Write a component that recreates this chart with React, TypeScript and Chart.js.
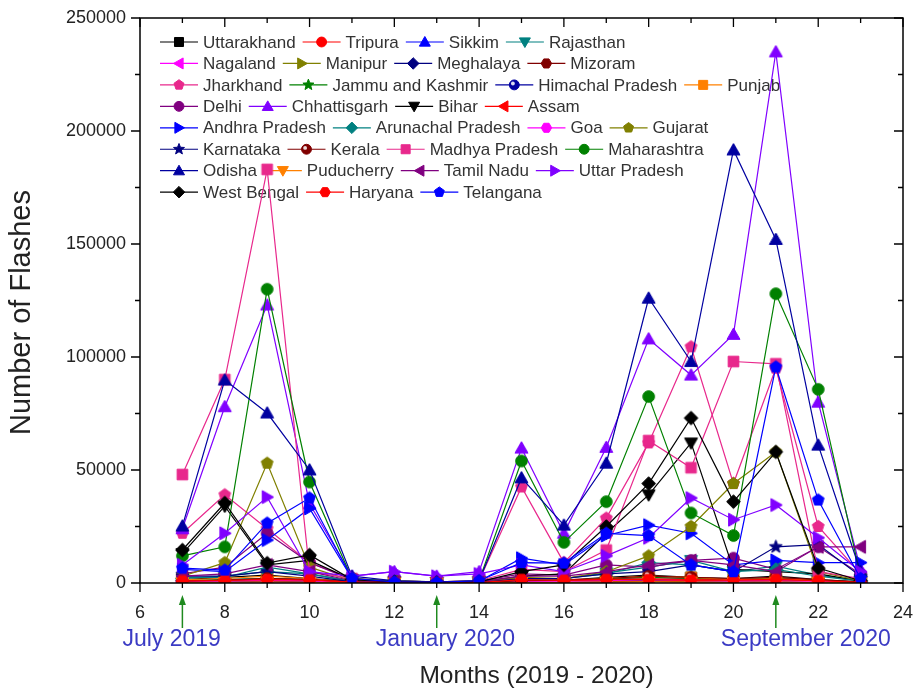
import React, { useEffect, useRef } from 'react';
import { Chart, registerables } from 'chart.js';

Chart.register(...registerables);

// ---------------- DATA ----------------
const months = [7, 8, 9, 10, 11, 12, 13, 14, 15, 16, 17, 18, 19, 20, 21, 22, 23];
const xTickValues = [6, 8, 10, 12, 14, 16, 18, 20, 22, 24];
const yTickValues = [0, 50000, 100000, 150000, 200000, 250000];
const markedMonths = [7, 13, 21];
const markedLabels = ['July 2019', 'January 2020', 'September 2020'];
const xTitle = 'Months (2019 - 2020)';
const yTitle = 'Number of Flashes';

const stateNames = [
  'Uttarakhand', 'Tripura', 'Sikkim', 'Rajasthan',
  'Nagaland', 'Manipur', 'Meghalaya', 'Mizoram',
  'Jharkhand', 'Jammu and Kashmir', 'Himachal Pradesh', 'Punjab',
  'Delhi', 'Chhattisgarh', 'Bihar', 'Assam',
  'Andhra Pradesh', 'Arunachal Pradesh', 'Goa', 'Gujarat',
  'Karnataka', 'Kerala', 'Madhya Pradesh', 'Maharashtra',
  'Odisha', 'Puducherry', 'Tamil Nadu', 'Uttar Pradesh',
  'West Bengal', 'Haryana', 'Telangana',
];

const uttarakhand = [1500, 2500, 3500, 2000, 600, 300, 200, 300, 1500, 1200, 2500, 3500, 2500, 2000, 3000, 1500, 400];
const tripura = [800, 1000, 1500, 1200, 500, 200, 150, 300, 2000, 1500, 1800, 1500, 1200, 1500, 1800, 1200, 400];
const sikkim = [400, 600, 900, 700, 300, 100, 80, 100, 500, 700, 900, 1200, 900, 700, 800, 500, 200];
const rajasthan = [2500, 2500, 7000, 4000, 800, 300, 200, 400, 1500, 2000, 4500, 7000, 10000, 5000, 7500, 3500, 900];
const nagaland = [300, 500, 700, 500, 200, 100, 80, 100, 300, 400, 600, 800, 600, 500, 600, 400, 150];
const manipur = [400, 600, 800, 600, 200, 100, 80, 100, 400, 500, 700, 900, 800, 600, 700, 500, 200];
const meghalaya = [1000, 1500, 2000, 1500, 400, 200, 100, 200, 1000, 1200, 1800, 2500, 2000, 1500, 2000, 1200, 400];
const mizoram = [300, 500, 700, 500, 150, 80, 50, 80, 300, 400, 600, 700, 500, 500, 600, 400, 150];
const jharkhand = [22000, 39000, 24000, 9000, 2000, 800, 500, 1000, 42500, 9000, 28700, 62000, 104500, 44000, 95000, 25000, 4000];
const jammuKashmir = [1000, 1500, 2000, 1500, 300, 150, 100, 150, 1000, 1200, 2000, 2500, 2000, 1500, 2000, 1200, 400];
const himachal = [500, 800, 1200, 900, 300, 200, 150, 200, 600, 800, 1200, 1500, 1200, 900, 1000, 700, 200];
const punjab = [1500, 2000, 3000, 2000, 300, 100, 80, 100, 800, 1000, 2000, 3000, 2500, 1500, 2000, 1200, 300];
const delhi = [4000, 7000, 22000, 9000, 1500, 800, 500, 800, 4000, 3500, 8000, 7000, 10000, 11000, 6000, 16000, 4000];
const chhattisgarh = [24000, 78000, 123000, 35000, 3000, 5000, 3000, 5000, 59700, 22000, 60000, 108000, 92000, 110000, 235000, 80000, 6000];
const bihar = [13000, 34000, 8000, 10000, 1500, 500, 300, 500, 3000, 4000, 22000, 39000, 62000, 6000, 5000, 4000, 800];
const assam = [1000, 1200, 1800, 1500, 500, 200, 100, 200, 1200, 1000, 1500, 1800, 1500, 1200, 1500, 1000, 300];
const andhra = [6000, 5000, 19000, 33000, 2000, 500, 300, 800, 11000, 8000, 21000, 25600, 22000, 8000, 10000, 9000, 9000];
const arunachal = [2000, 3000, 5000, 4000, 600, 200, 100, 200, 1500, 2000, 4000, 9000, 8000, 5000, 6000, 3000, 800];
const goa = [600, 800, 1200, 900, 200, 100, 80, 100, 500, 700, 1000, 1500, 1000, 800, 1000, 600, 200];
const gujarat = [3000, 9000, 53000, 7000, 1000, 400, 300, 500, 2500, 2000, 5000, 12000, 25000, 44000, 58000, 5000, 1000];
const karnataka = [3000, 3000, 5000, 3000, 500, 200, 100, 200, 2000, 2000, 4000, 5000, 8000, 5000, 16000, 17000, 3000];
const kerala = [800, 1200, 2000, 1500, 400, 200, 100, 200, 1000, 1200, 2000, 3000, 2500, 2000, 2500, 1500, 500];
const madhyaPradesh = [48000, 90000, 183000, 5000, 2000, 800, 500, 1000, 6000, 5000, 14600, 63000, 51000, 98000, 97000, 5000, 2000];
const maharashtra = [12000, 16000, 130000, 44700, 2000, 1000, 500, 1000, 54000, 18000, 36000, 82500, 31000, 21000, 128000, 85700, 3000];
const odisha = [25200, 89800, 75200, 50000, 3000, 1000, 500, 1000, 46500, 25600, 53000, 126000, 98000, 191600, 152000, 61000, 5000];
const puducherry = [200, 300, 400, 300, 100, 50, 30, 50, 200, 300, 400, 500, 400, 300, 400, 300, 100];
const tamilNadu = [3000, 4000, 8000, 5000, 1000, 500, 300, 500, 3000, 3000, 5000, 8000, 10000, 8000, 5000, 16000, 16000];
const uttarPradesh = [8000, 22000, 38000, 5000, 3000, 5000, 3000, 4000, 8000, 5000, 12000, 20000, 37600, 28000, 34500, 20000, 5000];
const westBengal = [14600, 35400, 8800, 12400, 1500, 500, 300, 500, 5000, 8000, 25000, 44000, 73000, 36000, 58000, 6600, 1000];
const haryana = [900, 1100, 1500, 1300, 400, 200, 100, 200, 1500, 1200, 1500, 1500, 1200, 1300, 1500, 1000, 300];
const telangana = [6600, 5700, 26500, 37600, 2000, 500, 300, 1000, 9000, 8800, 22000, 21000, 8000, 5000, 95600, 36700, 2000];

const seriesValues = [
  uttarakhand, tripura, sikkim, rajasthan,
  nagaland, manipur, meghalaya, mizoram,
  jharkhand, jammuKashmir, himachal, punjab,
  delhi, chhattisgarh, bihar, assam,
  andhra, arunachal, goa, gujarat,
  karnataka, kerala, madhyaPradesh, maharashtra,
  odisha, puducherry, tamilNadu, uttarPradesh,
  westBengal, haryana, telangana,
];

// ---------------- STYLE ----------------
const colorCycle = ['#000000', '#ff0000', '#0000ff', '#008080', '#ff00ff', '#808000', '#000080',
  '#800000', '#e8288c', '#008000', '#0000a0', '#ff8000', '#800080', '#8000ff'];
const shapeCycle = ['square', 'circle', 'up', 'down', 'left', 'right', 'diamond', 'hexagon', 'pentagon', 'star', 'sphere'];
const markedLabelShift = [-60, -61, -55];

const FONT = "'Liberation Sans', Arial, Helvetica, sans-serif";

function drawMarker(ctx: CanvasRenderingContext2D, shape: string, x: number, y: number, r: number, color: string) {
  ctx.save();
  ctx.fillStyle = color;
  ctx.strokeStyle = color;
  ctx.lineWidth = 1;
  ctx.beginPath();
  const poly = (pts: number[][]) => {
    ctx.moveTo(x + pts[0][0], y + pts[0][1]);
    for (let i = 1; i < pts.length; i++) ctx.lineTo(x + pts[i][0], y + pts[i][1]);
    ctx.closePath();
  };
  const reg = (n: number, rr: number, rot: number) => {
    const pts: number[][] = [];
    for (let i = 0; i < n; i++) {
      const a = rot + (i * 2 * Math.PI) / n;
      pts.push([rr * Math.cos(a), rr * Math.sin(a)]);
    }
    poly(pts);
  };
  switch (shape) {
    case 'square': ctx.rect(x - r * 0.82, y - r * 0.82, r * 1.64, r * 1.64); break;
    case 'circle': ctx.arc(x, y, r * 0.9, 0, Math.PI * 2); break;
    case 'up': poly([[0, -r], [r, r * 0.75], [-r, r * 0.75]]); break;
    case 'down': poly([[0, r], [r, -r * 0.75], [-r, -r * 0.75]]); break;
    case 'left': poly([[-r, 0], [r * 0.75, -r], [r * 0.75, r]]); break;
    case 'right': poly([[r, 0], [-r * 0.75, -r], [-r * 0.75, r]]); break;
    case 'diamond': poly([[0, -r * 1.05], [r * 1.05, 0], [0, r * 1.05], [-r * 1.05, 0]]); break;
    case 'hexagon': reg(6, r * 0.95, 0); break;
    case 'pentagon': reg(5, r * 0.95, -Math.PI / 2); break;
    case 'star': {
      const pts: number[][] = [];
      for (let i = 0; i < 10; i++) {
        const a = -Math.PI / 2 + (i * Math.PI) / 5;
        const rr = i % 2 === 0 ? r * 1.05 : r * 0.45;
        pts.push([rr * Math.cos(a), rr * Math.sin(a)]);
      }
      poly(pts);
      break;
    }
    case 'sphere': ctx.arc(x, y, r * 0.9, 0, Math.PI * 2); break;
  }
  ctx.fill();
  ctx.stroke();
  if (shape === 'sphere') {
    ctx.beginPath();
    ctx.fillStyle = 'rgba(255,255,255,0.85)';
    ctx.arc(x - r * 0.25, y - r * 0.25, r * 0.35, 0, Math.PI * 2);
    ctx.fill();
  }
  ctx.restore();
}

function markerCanvas(shape: string, color: string, r: number) {
  const size = Math.ceil(r * 2 + 4);
  const c = document.createElement('canvas');
  c.width = size;
  c.height = size;
  const ctx = c.getContext('2d')!;
  drawMarker(ctx, shape, size / 2, size / 2, r, color);
  return c;
}

const legendPlugin = {
  id: 'customLegend',
  beforeDatasetsDraw(chart: any) {
    const ctx = chart.ctx as CanvasRenderingContext2D;
    const area = chart.chartArea;
    const x0 = area.left + 20;
    const y0 = area.top + 24;
    const rowH = 21.45;
    ctx.save();
    ctx.font = `17px ${FONT}`;
    ctx.textBaseline = 'middle';
    ctx.textAlign = 'left';
    let x = x0;
    chart.data.datasets.forEach((ds: any, i: number) => {
      const row = Math.floor(i / 4);
      if (i % 4 === 0) x = x0;
      const y = y0 + row * rowH;
      ctx.strokeStyle = ds.borderColor;
      ctx.lineWidth = 1.2;
      ctx.beginPath();
      ctx.moveTo(x, y);
      ctx.lineTo(x + 38, y);
      ctx.stroke();
      drawMarker(ctx, ds._shape, x + 19, y, 5.5, ds.borderColor);
      ctx.fillStyle = '#333';
      ctx.fillText(ds.label, x + 43, y + 1);
      x += 43 + ctx.measureText(ds.label).width + 7;
    });
    ctx.restore();
  },
};

const framePlugin = {
  id: 'frameTicks',
  afterDatasetsDraw(chart: any) {
    const ctx = chart.ctx as CanvasRenderingContext2D;
    const { left, right, top, bottom } = chart.chartArea;
    const xs = chart.scales.x;
    const ys = chart.scales.y;
    ctx.save();
    ctx.strokeStyle = '#000';
    ctx.lineWidth = 1.5;
    ctx.strokeRect(left, top, right - left, bottom - top);
    ctx.lineWidth = 1.3;
    ctx.beginPath();
    for (let v = 6; v <= 24; v += 1) {
      const px = xs.getPixelForValue(v);
      const major = v % 2 === 0;
      const len = major ? 9 : 5;
      ctx.moveTo(px, bottom);
      ctx.lineTo(px, bottom + len);
      ctx.moveTo(px, top);
      ctx.lineTo(px, top + len);
    }
    for (let v = 0; v <= 250000; v += 25000) {
      const py = ys.getPixelForValue(v);
      const major = v % 50000 === 0;
      const len = major ? 9 : 5;
      ctx.moveTo(left, py);
      ctx.lineTo(left - len, py);
      ctx.moveTo(right, py);
      ctx.lineTo(right - len, py);
    }
    ctx.stroke();
    ctx.restore();
  },
  afterDraw(chart: any) {
    const ctx = chart.ctx as CanvasRenderingContext2D;
    const { left, right, top, bottom } = chart.chartArea;
    const xs = chart.scales.x;
    ctx.save();
    markedMonths.forEach((m, i) => {
      const px = xs.getPixelForValue(m);
      ctx.strokeStyle = '#1f8a1f';
      ctx.fillStyle = '#1f8a1f';
      ctx.lineWidth = 1.5;
      ctx.beginPath();
      ctx.moveTo(px, bottom + 45);
      ctx.lineTo(px, bottom + 20);
      ctx.stroke();
      ctx.beginPath();
      ctx.moveTo(px, bottom + 12);
      ctx.lineTo(px + 3.5, bottom + 22);
      ctx.lineTo(px - 3.5, bottom + 22);
      ctx.closePath();
      ctx.fill();
      ctx.fillStyle = '#3b3bc4';
      ctx.font = `23px ${FONT}`;
      ctx.textAlign = 'left';
      ctx.textBaseline = 'middle';
      ctx.fillText(markedLabels[i], px + markedLabelShift[i], bottom + 57);
    });
    // axis titles
    ctx.fillStyle = '#222';
    ctx.textAlign = 'center';
    ctx.textBaseline = 'middle';
    ctx.font = `24.5px ${FONT}`;
    ctx.fillText(xTitle, (left + right) / 2 + 15, bottom + 93);
    ctx.translate(22, (top + bottom) / 2 + 12);
    ctx.rotate(-Math.PI / 2);
    ctx.font = `29px ${FONT}`;
    ctx.fillText(yTitle, 0, 0);
    ctx.restore();
  },
};

export default function App() {
  const ref = useRef<HTMLCanvasElement | null>(null);
  useEffect(() => {
    document.body.style.margin = '0';
    const canvas = ref.current!;
    const datasets = seriesValues.map((vals, i) => {
      const color = colorCycle[i % colorCycle.length];
      const shape = shapeCycle[i % shapeCycle.length];
      return {
        label: stateNames[i],
        data: months.map((m, j) => ({ x: m, y: vals[j] })),
        borderColor: color,
        backgroundColor: color,
        borderWidth: 1.2,
        pointStyle: markerCanvas(shape, color, 6.5),
        pointRadius: 6,
        tension: 0,
        order: seriesValues.length - i,
        _shape: shape,
      } as any;
    });
    const chart = new Chart(canvas, {
      type: 'line',
      data: { datasets },
      options: {
        animation: false,
        responsive: true,
        maintainAspectRatio: false,
        layout: { padding: { left: 0, right: 16, top: 18, bottom: 0 } },
        plugins: { legend: { display: false }, tooltip: { enabled: false } },
        scales: {
          x: {
            type: 'linear',
            min: 6,
            max: 24,
            afterBuildTicks: (s: any) => { s.ticks = xTickValues.map((v) => ({ value: v })); },
            afterFit: (s: any) => { s.height = 111; s.paddingLeft = 0; s.paddingRight = 0; },
            grid: { display: false },
            border: { display: false },
            ticks: { font: { family: FONT, size: 18 }, color: '#222', padding: 11, maxRotation: 0 },
          },
          y: {
            type: 'linear',
            min: 0,
            max: 250000,
            afterBuildTicks: (s: any) => { s.ticks = yTickValues.map((v) => ({ value: v })); },
            afterFit: (s: any) => { s.width = 140; s.paddingTop = 0; s.paddingBottom = 0; },
            grid: { display: false },
            border: { display: false },
            ticks: { font: { family: FONT, size: 18 }, color: '#222', padding: 6, callback: (v: any) => String(v) },
          },
        },
      },
      plugins: [legendPlugin, framePlugin],
    });
    return () => chart.destroy();
  }, []);
  return (
    <div style={{ position: 'fixed', left: 0, top: 0, width: 919, height: 694, background: '#fff' }}>
      <canvas ref={ref} />
    </div>
  );
}
